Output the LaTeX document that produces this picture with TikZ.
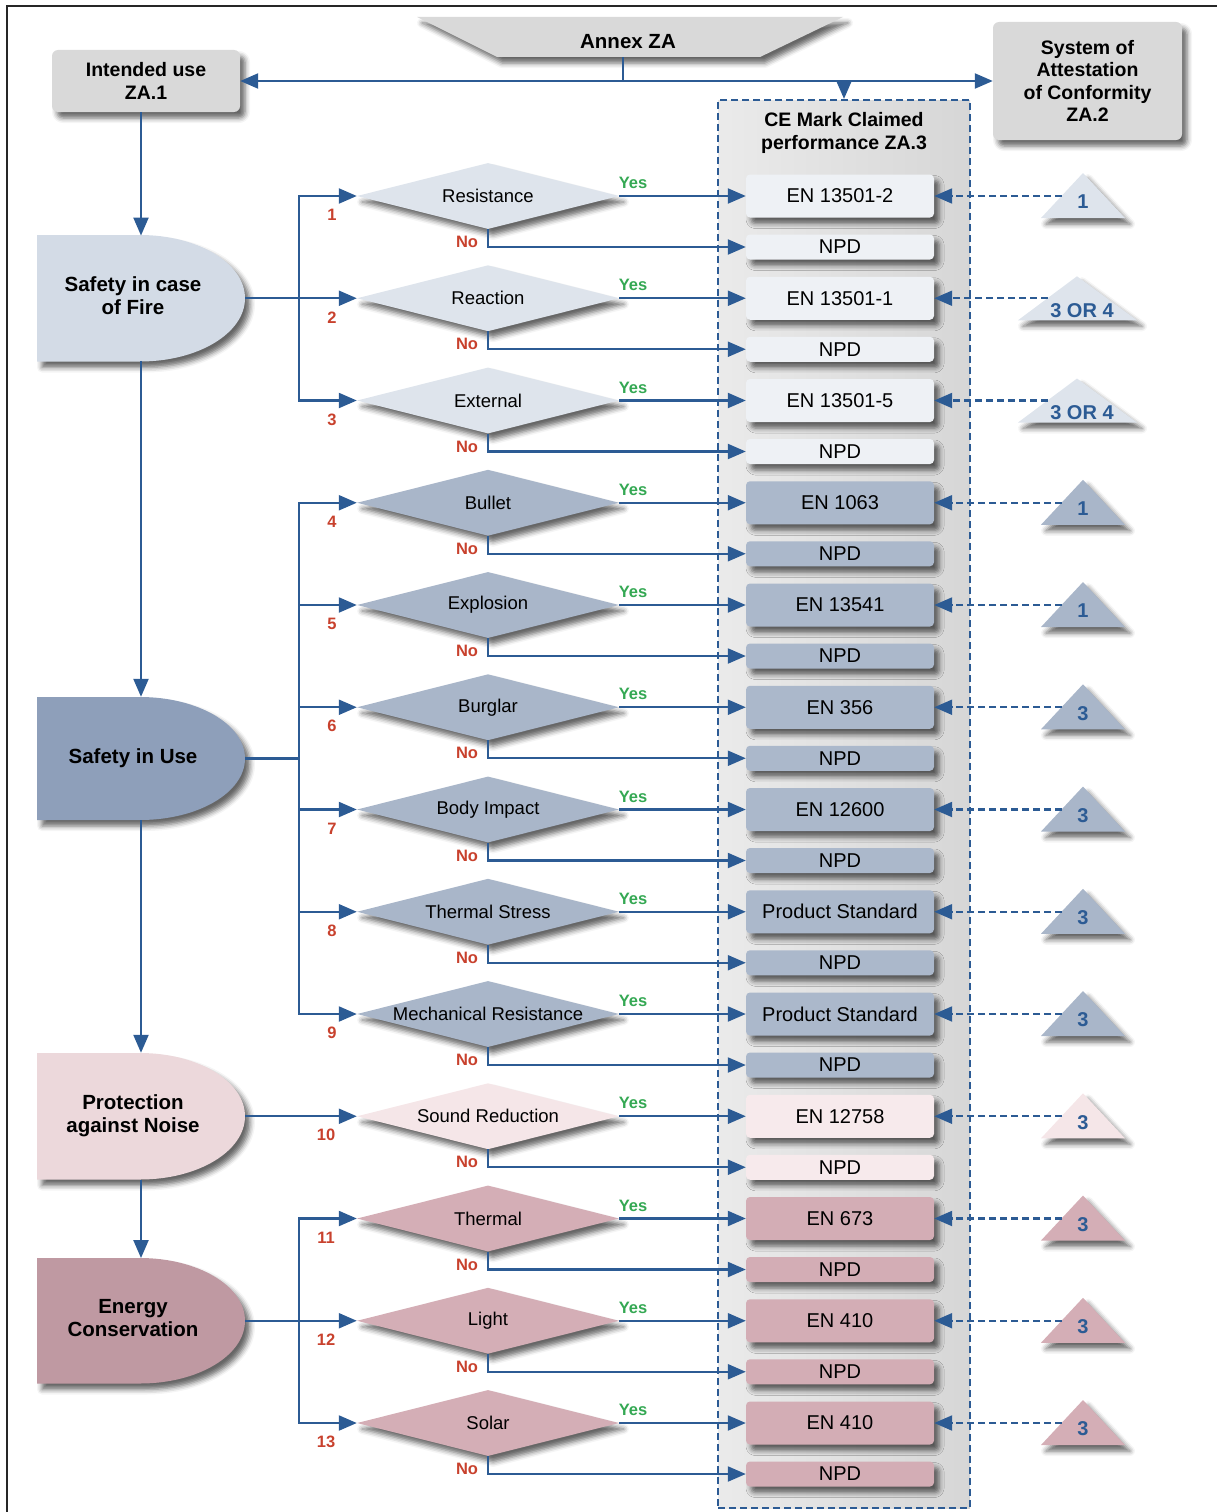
\documentclass[tikz,border=0pt]{standalone}
\usepackage{fontspec}
\setmainfont{Liberation Sans}
\usetikzlibrary{arrows.meta,shapes.geometric,shadows.blur,calc}

\definecolor{lnc}{HTML}{2C5B94}
\definecolor{yesc}{HTML}{34A853}
\definecolor{noc}{HTML}{C8412D}
\definecolor{grayA}{HTML}{D9D9D9}
\definecolor{fireD}{HTML}{D3DBE6}
\definecolor{fireDm}{HTML}{DEE4EC}
\definecolor{fireB}{HTML}{EEF1F5}
\definecolor{useD}{HTML}{8E9FBA}
\definecolor{useDm}{HTML}{A9B6C9}
\definecolor{useB}{HTML}{ABB8CB}
\definecolor{noiseD}{HTML}{ECD8DB}
\definecolor{noiseDm}{HTML}{F5E6E8}
\definecolor{noiseB}{HTML}{F7EAEC}
\definecolor{enD}{HTML}{BF99A2}
\definecolor{enDm}{HTML}{D4AEB6}
\definecolor{enB}{HTML}{D3ADB5}

\newcommand\Dsh[3]{%
  \pgfmathsetmacro\dym{(#1+#2)/2}%
  \pgfmathsetmacro\dk{0.5523*(#2-#1)/2}%
  \path[fill=#3,shd] (37,#1) -- (140,#1) .. controls (198,#1) and (245,\dym-\dk) .. (245,\dym)
     .. controls (245,\dym+\dk) and (198,#2) .. (140,#2) -- (37,#2) -- cycle;}
\newcommand\Dtxt[1]{\makebox[0pt]{\hspace*{-16pt}\begin{tabular}{@{}c@{}}#1\end{tabular}}}

\tikzset{
  shd/.style={blur shadow={shadow xshift=5pt,shadow yshift=-6pt,shadow blur radius=5pt,shadow opacity=60}},
  ln/.style={draw=lnc,line width=2.2pt},
  arr/.style={ln,-{Triangle[length=18pt,width=15pt]}},
  dln/.style={draw=lnc,line width=2.2pt,dash pattern=on 7pt off 4pt,-{Triangle[length=18pt,width=15pt]}},
  dia/.style={diamond,aspect=1,minimum width=262pt,minimum height=66pt,inner sep=0pt,shd,font=\fontsize{18.5}{20}\selectfont},
  enbox/.style={rectangle,rounded corners=4pt,minimum width=188pt,minimum height=43pt,inner sep=0pt,shd,font=\fontsize{20}{22}\selectfont},
  npdbox/.style={enbox,minimum height=25pt},
  yesl/.style={text=yesc,font=\bfseries\fontsize{16.5}{18}\selectfont,inner sep=0pt},
  nol/.style={text=noc,font=\bfseries\fontsize{16.5}{18}\selectfont,inner sep=0pt},
  numl/.style={text=noc,font=\bfseries\fontsize{16.5}{18}\selectfont,inner sep=0pt},
  tril/.style={text=lnc,font=\bfseries\fontsize{20}{22}\selectfont,inner sep=0pt},
  hbox/.style={rectangle,rounded corners=6pt,fill=grayA,shd,align=center,inner sep=0pt,font=\bfseries\fontsize{19.5}{22.5}\selectfont},
  dnode/.style={minimum width=208pt,minimum height=125pt,inner sep=0pt,font=\bfseries\fontsize{20.5}{23}\selectfont},
}

\begin{document}
\begin{tikzpicture}[x=1pt,y=-1pt]
\useasboundingbox (0,0) rectangle (1217,1512);
% frame
\draw[line width=2.5pt,black!85] (7,1512) -- (7,6) -- (1217,6);

% CE area
\node[draw=lnc,line width=2.2pt,dash pattern=on 7pt off 4pt,left color=black!8,right color=black!16,
      minimum width=252pt,minimum height=1408pt,inner sep=0pt] (ce) at (844,804) {};
\node[font=\bfseries\fontsize{19.5}{23}\selectfont,align=center] (cetitle) at (844,133) {CE Mark Claimed\\performance ZA.3};

% Annex banner
\path[fill=grayA,shd] (417,17) -- (843,17) -- (760,57) -- (497,57) -- cycle;
\node[font=\bfseries\fontsize{20.5}{22}\selectfont,minimum height=30pt,inner sep=0pt] (annex) at (628,42) {Annex ZA};

% top boxes
\node[hbox,minimum width=188pt,minimum height=62pt] (intended) at (146,81) {Intended use\\ZA.1};
\node[hbox,minimum width=189pt,minimum height=118pt] (system) at (1087.5,81) {System of\\Attestation\\of Conformity\\ZA.2};

\draw[ln] (annex.south) ++(-5,0) -- (623,81);
\draw[ln,{Triangle[length=18pt,width=15pt]}-{Triangle[length=18pt,width=15pt]}] (intended.east) -- (system.west |- intended.east);
\draw[arr] (ce.north |- intended.east) -- (ce.north);

% D shapes
\Dsh{235}{361.5}{fireD}
\Dsh{697}{820}{useD}
\Dsh{1053}{1179.5}{noiseD}
\Dsh{1258}{1383.5}{enD}
\node[dnode] (fire) at (141,298.25) {\Dtxt{Safety in case\\of Fire}};
\node[dnode,minimum height=123pt] (use) at (141,758.5) {\Dtxt{Safety in Use}};
\node[dnode,minimum height=126.5pt] (noise) at (141,1116.25) {\Dtxt{Protection\\against Noise}};
\node[dnode] (energy) at (141,1320.75) {\Dtxt{Energy\\Conservation}};

\draw[arr] (intended.south -| fire.north) -- (fire.north);
\draw[arr] (fire.south) -- (use.north);
\draw[arr] (use.south) -- (noise.north);
\draw[arr] (noise.south) -- (energy.north);

% rows
\foreach \i/\dt/\df/\bt/\bf/\tl/\tw in {
  1/Resistance/fireDm/EN 13501-2/fireB/1/s,
  2/Reaction/fireDm/EN 13501-1/fireB/3 OR 4/w,
  3/External/fireDm/EN 13501-5/fireB/3 OR 4/w,
  4/Bullet/useDm/EN 1063/useB/1/s,
  5/Explosion/useDm/EN 13541/useB/1/s,
  6/Burglar/useDm/EN 356/useB/3/s,
  7/Body Impact/useDm/EN 12600/useB/3/s,
  8/Thermal Stress/useDm/Product Standard/useB/3/s,
  9/Mechanical Resistance/useDm/Product Standard/useB/3/s,
  10/Sound Reduction/noiseDm/EN 12758/noiseB/3/s,
  11/Thermal/enDm/EN 673/enB/3/s,
  12/Light/enDm/EN 410/enB/3/s,
  13/Solar/enDm/EN 410/enB/3/s}{
  \pgfmathsetmacro\ry{196+(\i-1)*102.25}
  \node[dia,fill=\df] (d\i) at (488,\ry) {\makebox[0pt]{\dt}};
  \node[enbox,fill=\bf] (e\i) at (840,\ry) {\bt};
  \node[npdbox,fill=\bf] (n\i) at (840,\ry+51) {NPD};
  \draw[arr] (d\i.east) -- (e\i.west);
  \draw[arr] (d\i.south) |- (n\i.west);
  \node[yesl] (y\i) at (633,\ry-13) {Yes};
  \node[nol] (no\i) at (467,\ry+46) {No};
  \ifnum\i<10
    \node[numl] (k\i) at (332,\ry+19) {\i};
  \else
    \node[numl] (k\i) at (326,\ry+19) {\i};
  \fi
  \if\tw w
    \path[fill=\df,shd] (1077,\ry-22) -- (1137,\ry+22) -- (1018,\ry+22) -- cycle;
    \coordinate (t\i) at (1047.5,\ry);
    \node[tril] (tl\i) at (1082,\ry+12) {\tl};
  \else
    \path[fill=\df,shd] (1083,\ry-23) -- (1125,\ry+22) -- (1041,\ry+22) -- cycle;
    \coordinate (t\i) at (1062,\ry);
    \node[tril] (tl\i) at (1083,\ry+6) {\tl};
  \fi
  \draw[dln] (t\i) -- (e\i.east);
}

% branch buses
\coordinate (bx) at (299,0);
\draw[arr] (fire.east) -- (d2.west);
\draw[arr] (bx |- d2.west) |- (d1.west);
\draw[arr] (bx |- d2.west) |- (d3.west);
\draw[ln] (use.east) -- (bx |- use.east);
\foreach \j in {4,...,9}{\draw[arr] (bx |- use.east) |- (d\j.west);}
\draw[arr] (noise.east) -- (d10.west);
\draw[arr] (energy.east) -- (d12.west);
\draw[arr] (bx |- d12.west) |- (d11.west);
\draw[arr] (bx |- d12.west) |- (d13.west);
\end{tikzpicture}
\end{document}
